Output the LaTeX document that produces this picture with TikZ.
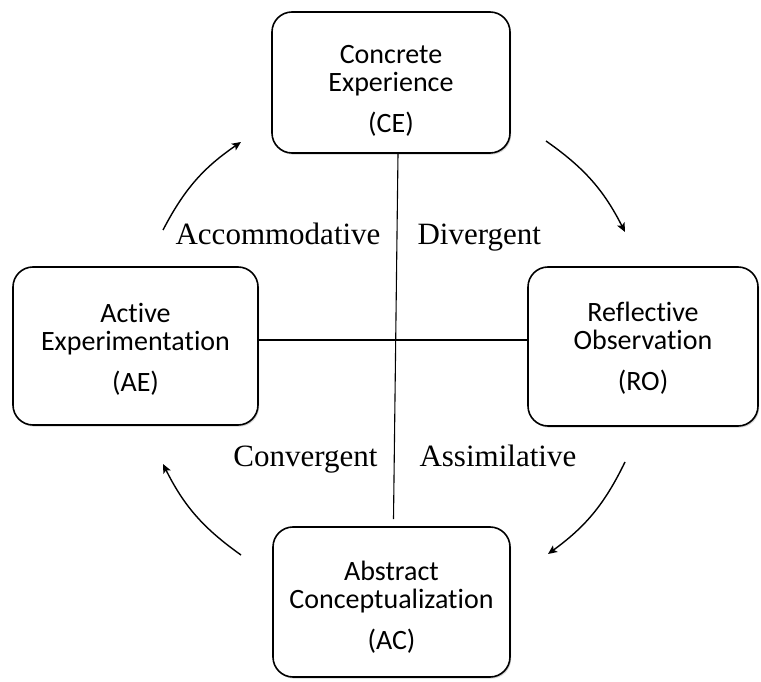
\documentclass[tikz,border=0pt]{standalone}
\usepackage{fontspec}
\setmainfont{Liberation Serif}
\newfontfamily\boxfont[Ligatures=NoCommon, RawFeature={-calt;-clig;-dlig}]{Carlito}
\usepackage{tikz}
\usetikzlibrary{positioning}
\usetikzlibrary{shadows, arrows.meta}

\tikzset{
  stagebox/.style={draw, line width=1.6pt, rounded corners=20pt, fill=white,
    drop shadow={shadow xshift=1.2pt, shadow yshift=-1.6pt, fill=black!35}},
  stagetext/.style={align=center, font=\boxfont\fontsize{28}{28}\selectfont},
  styletext/.style={font=\fontsize{31}{33}\selectfont},
  cycle/.style={line width=1.4pt, -{Stealth[length=9pt, width=8pt, inset=2pt]}, bend left=14}
}

\begin{document}
\begin{tikzpicture}[x=1pt, y=1pt]
  \useasboundingbox (0,0) rectangle (761,681);

  % the four stages
  \node[stagebox, minimum width=238pt, minimum height=141pt] (CE) at (391,598.5) {};
  \node[stagebox, minimum width=245pt, minimum height=158pt] (AE) at (135.5,335) {};
  \node[stagebox, minimum width=230pt, minimum height=159pt] (RO) at (643,334.5) {};
  \node[stagebox, minimum width=237pt, minimum height=150pt] (AC) at (391.5,79) {};

  \node[stagetext] (CEtext) at (391,590) {Concrete\\Experience\\[13pt](CE)};
  \node[stagetext] (AEtext) at (135.5,331.5) {Active\\Experimentation\\[13pt](AE)};
  \node[stagetext] (ROtext) at (643,332.5) {Reflective\\Observation\\[13pt](RO)};
  \node[stagetext] (ACtext) at (391.5,73.5) {Abstract\\Conceptualization\\[13pt](AC)};

  % axes
  \draw[line width=1.1pt] ([xshift=7pt]CE.south) -- ([xshift=2pt, yshift=7pt]AC.north);
  \draw[line width=1.1pt] ([yshift=6pt]AE.east) -- ([yshift=6.5pt]RO.west);

  % learning styles
  \node[styletext, anchor=base east] (acco) at (384,436) {Accommodative};
  \node[styletext, anchor=base west] (dive) at (414,436) {Divergent};
  \node[styletext, anchor=base east] (conv) at (381,214) {Convergent};
  \node[styletext, anchor=base west] (assi) at (416,214) {Assimilative};

  % cycle
  \coordinate (a1) at (163,451);
  \coordinate (a2) at (241,539);
  \coordinate (b1) at (546,540);
  \coordinate (b2) at (625,449);
  \coordinate (c1) at (625,219);
  \coordinate (c2) at (548,127);
  \coordinate (d1) at (241,126);
  \coordinate (d2) at (163,217);

  \path[cycle]
    (a1) edge (a2)
    (b1) edge (b2)
    (c1) edge (c2)
    (d1) edge (d2);
\end{tikzpicture}
\end{document}
